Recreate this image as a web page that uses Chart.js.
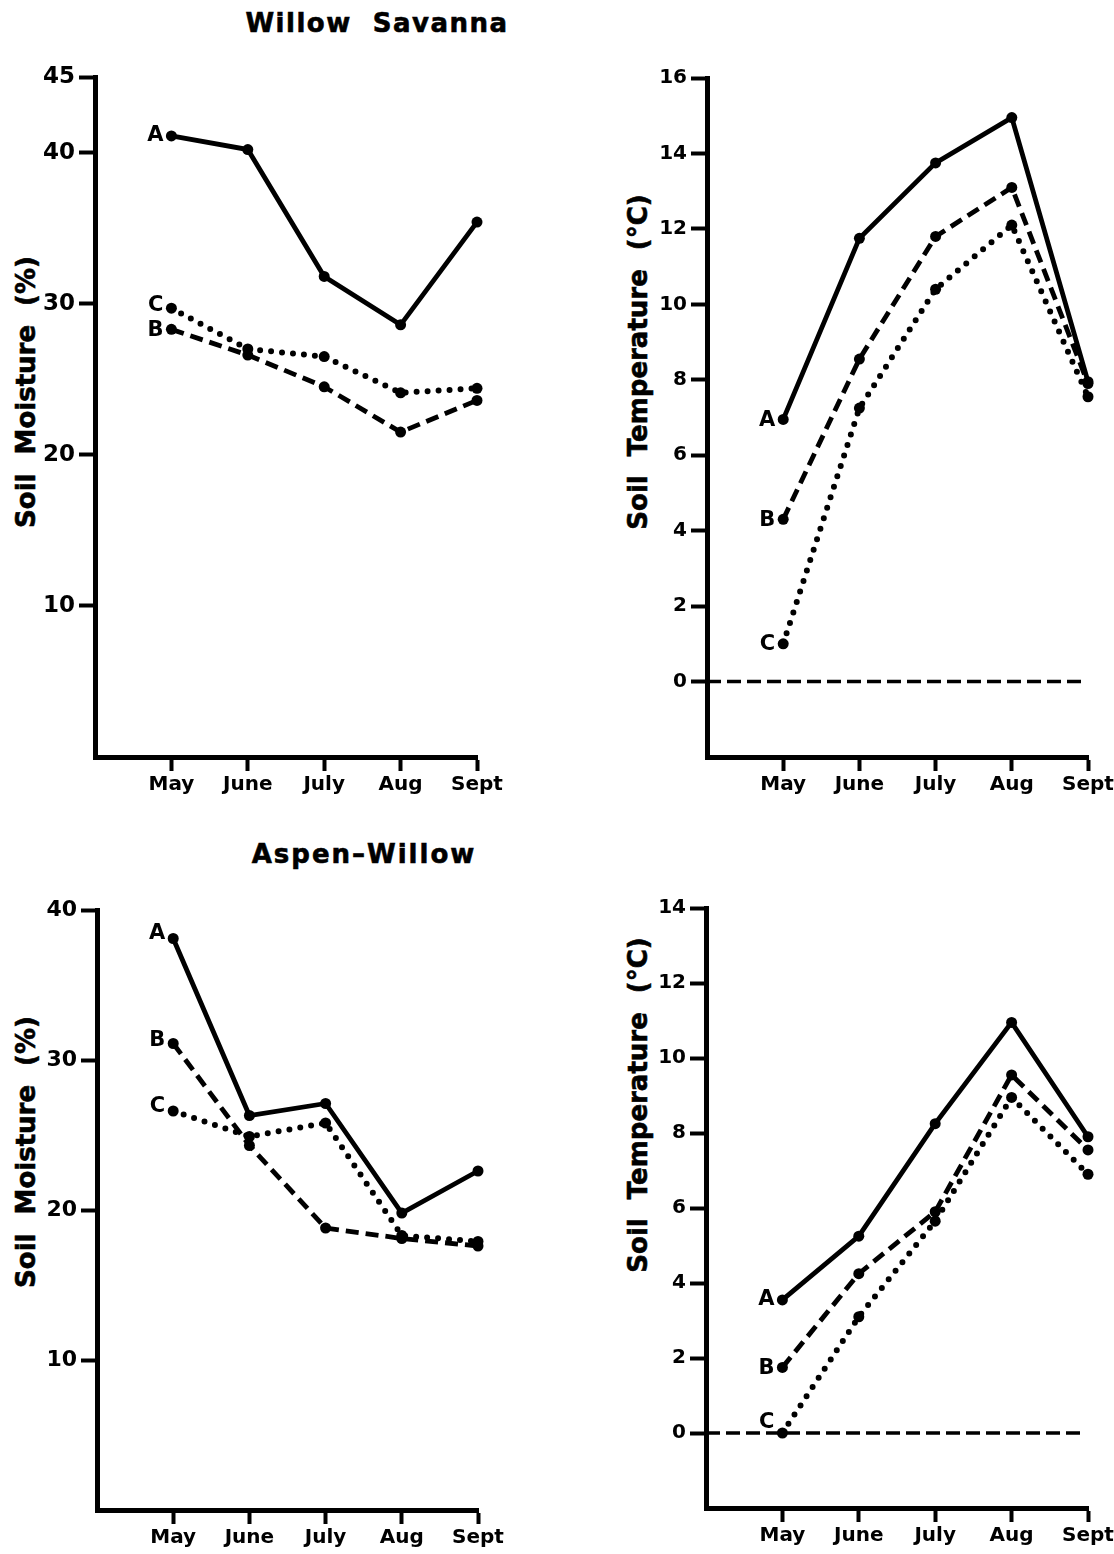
<!DOCTYPE html>
<html><head><meta charset="utf-8">
<script src="https://cdn.jsdelivr.net/npm/chart.js@4/dist/chart.umd.min.js"></script>
<style>
html,body{margin:0;padding:0;background:#fff;width:1114px;height:1554px;overflow:hidden;position:relative;font-family:"DejaVu Sans",sans-serif;}
canvas{position:absolute;}
.t{position:absolute;font-weight:bold;color:#000;white-space:pre;transform:translate(-50%,-50%);line-height:1;-webkit-text-stroke:0.6px #000;}
.r{transform:translate(-50%,-50%) rotate(-90deg);font-size:26px;word-spacing:10px;}
</style></head><body>
<div class="t" style="left:377px;top:23px;font-size:26px;letter-spacing:1.5px">Willow  Savanna</div>
<div class="t" style="left:364px;top:854px;font-size:26px;letter-spacing:2px">Aspen–Willow</div>
<div class="t r" style="left:26px;top:392px">Soil Moisture (%)</div>
<div class="t r" style="left:638px;top:362px">Soil Temperature (°C)</div>
<div class="t r" style="left:26px;top:1152px">Soil Moisture (%)</div>
<div class="t r" style="left:638px;top:1105px">Soil Temperature (°C)</div>
<canvas id="c1" width="557" height="780" style="left:0;top:40px"></canvas>
<canvas id="c2" width="600" height="780" style="left:557px;top:40px"></canvas>
<canvas id="c3" width="557" height="684" style="left:0;top:870px"></canvas>
<canvas id="c4" width="600" height="684" style="left:557px;top:870px"></canvas>
<script>
// ---- data ----
const months = ['May', 'June', 'July', 'Aug', 'Sept'];
const monthPos = [1, 2, 3, 4, 5];

// Willow Savanna – soil moisture (%)
const wsMoistA = [41.1, 40.2, 31.8, 28.6, 35.4];
const wsMoistB = [28.3, 26.6, 24.5, 21.5, 23.6];
const wsMoistC = [29.7, 27.0, 26.5, 24.1, 24.4];
// Willow Savanna – soil temperature (°C)
const wsTempA = [6.95, 11.75, 13.75, 14.95, 7.95];
const wsTempB = [4.3, 8.55, 11.8, 13.1, 7.9];
const wsTempC = [1.0, 7.25, 10.4, 12.1, 7.55];
// Aspen-Willow – soil moisture (%)
const awMoistA = [38.1, 26.3, 27.1, 19.8, 22.6];
const awMoistB = [31.1, 24.3, 18.8, 18.1, 17.6];
const awMoistC = [26.6, 24.9, 25.8, 18.3, 17.9];
// Aspen-Willow – soil temperature (°C)
const awTempA = [3.55, 5.25, 8.25, 10.95, 7.9];
const awTempB = [1.75, 4.25, 5.9, 9.55, 7.55];
const awTempC = [0.0, 3.1, 5.65, 8.95, 6.9];

// 0 °C reference line
const zeroLineX = [0, 4.96];
const zeroLineY = [0, 0];

// tick labels
const ticksWSMoist = [10, 20, 30, 40, 45];
const ticksWSTemp = [0, 2, 4, 6, 8, 10, 12, 14, 16];
const ticksAWMoist = [10, 20, 30, 40];
const ticksAWTemp = [0, 2, 4, 6, 8, 10, 12, 14];

// ---- helpers ----
const pts = (xs, ys) => xs.map((x, i) => ({x: x, y: ys[i]}));
const FONT = '"DejaVu Sans", sans-serif';

const styles = {
  A: {borderDash: [], borderWidth: 4.8, borderCapStyle: 'butt'},
  B: {borderDash: [13, 7], borderWidth: 4.8, borderCapStyle: 'butt'},
  C: {borderDash: [0, 11], borderWidth: 6, borderCapStyle: 'round'}
};

function series(tag, arr, dy) {
  return Object.assign({
    tag: tag, tagDy: dy || 0,
    data: pts(monthPos, arr),
    borderColor: '#000', backgroundColor: '#000',
    pointRadius: 5.5, pointBorderWidth: 0, pointBackgroundColor: '#000',
    tension: 0, clip: false, fill: false
  }, styles[tag]);
}
function zeroLine() {
  return {
    data: pts(zeroLineX, zeroLineY),
    borderColor: '#000', borderWidth: 3.5, borderDash: [14, 6],
    pointRadius: 0, clip: false, fill: false
  };
}

const seriesLabels = {
  id: 'seriesLabels',
  afterDatasetsDraw(chart) {
    const ctx = chart.ctx;
    ctx.save();
    ctx.font = 'bold 21px ' + FONT;
    ctx.fillStyle = '#000';
    ctx.textAlign = 'right';
    ctx.textBaseline = 'middle';
    chart.data.datasets.forEach((ds, i) => {
      if (!ds.tag) return;
      const p = chart.getDatasetMeta(i).data[0];
      ctx.fillText(ds.tag, p.x - 8, p.y + ds.tagDy);
    });
    ctx.restore();
  }
};

function makePanel(id, p) {
  new Chart(document.getElementById(id), {
    type: 'line',
    data: {datasets: p.datasets},
    plugins: [seriesLabels],
    options: {
      responsive: false, animation: false, devicePixelRatio: 1,
      layout: {padding: p.pad},
      plugins: {legend: {display: false}, tooltip: {enabled: false}, title: {display: false}},
      scales: {
        x: {
          type: 'linear', min: 0, max: 5,
          afterBuildTicks: s => { s.ticks = monthPos.map(v => ({value: v})); },
          afterFit: s => { s.height = p.xH; },
          border: {display: true, color: '#000', width: 5},
          grid: {drawOnChartArea: false, drawTicks: true, tickLength: 14, tickWidth: 4, tickColor: '#000'},
          ticks: {
            color: '#000', padding: 2, maxRotation: 0, autoSkip: false,
            font: {family: FONT, size: 20, weight: 'bold'},
            callback: v => months[monthPos.indexOf(v)] || ''
          }
        },
        y: {
          type: 'linear', min: p.yMin, max: p.yMax,
          afterBuildTicks: s => { s.ticks = p.yTicks.map(v => ({value: v})); },
          afterFit: s => { s.width = p.yW; },
          border: {display: true, color: '#000', width: 5},
          grid: {drawOnChartArea: false, drawTicks: true, tickLength: 16, tickWidth: 4, tickColor: '#000'},
          ticks: {
            color: '#000', padding: 4, autoSkip: false,
            font: {family: FONT, size: p.yFont, weight: 'bold'}
          }
        }
      }
    }
  });
}

makePanel('c1', {
  datasets: [series('A', wsMoistA, 0), series('C', wsMoistC, -3), series('B', wsMoistB, 1)],
  yMin: 0, yMax: 45, yTicks: ticksWSMoist, yFont: 23,
  yW: 95, xH: 50, pad: {left: 0, top: 37, right: 80, bottom: 13}
});
makePanel('c2', {
  datasets: [zeroLine(), series('A', wsTempA, 1), series('B', wsTempB, 1), series('C', wsTempC, 1)],
  yMin: -2, yMax: 16, yTicks: ticksWSTemp, yFont: 20,
  yW: 150, xH: 50, pad: {left: 0, top: 38, right: 69, bottom: 13}
});
makePanel('c3', {
  datasets: [series('A', awMoistA, -5), series('B', awMoistB, -3), series('C', awMoistC, -4)],
  yMin: 0, yMax: 40, yTicks: ticksAWMoist, yFont: 22,
  yW: 97, xH: 40, pad: {left: 0, top: 40, right: 79, bottom: 4}
});
makePanel('c4', {
  datasets: [zeroLine(), series('A', awTempA, 0), series('B', awTempB, 1), series('C', awTempC, -10)],
  yMin: -2, yMax: 14, yTicks: ticksAWTemp, yFont: 20,
  yW: 149, xH: 42, pad: {left: 0, top: 38, right: 69, bottom: 4}
});
</script>
</body></html>
